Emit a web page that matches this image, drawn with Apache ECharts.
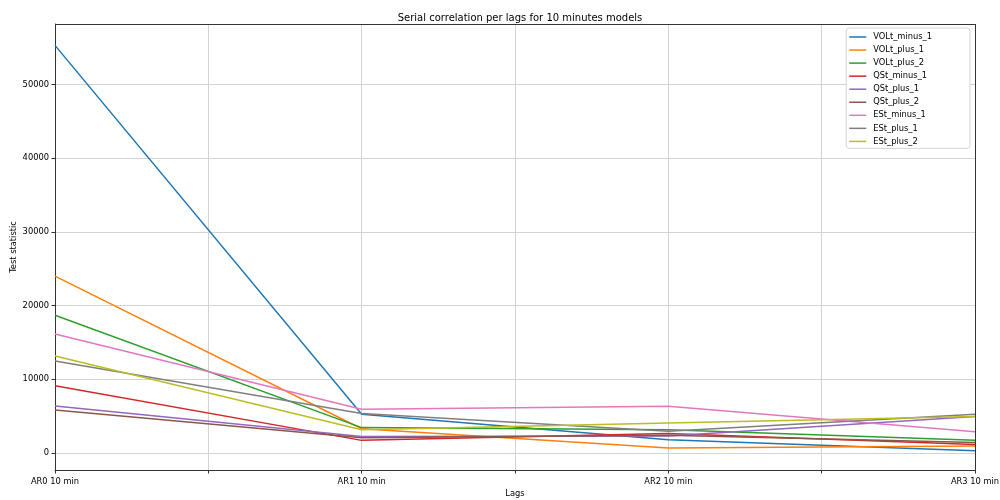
<!DOCTYPE html>
<html>
<head>
<meta charset="utf-8">
<script src="https://cdn.jsdelivr.net/npm/echarts@6/dist/echarts.min.js"></script>
<style>
  html, body { margin: 0; padding: 0; background: #fff; }
  #chart { width: 1000px; height: 500px; }
</style>
</head>
<body>
<div id="chart"></div>
<script>
// Lag model labels along the x axis
const categories = ['AR0 10 min', 'AR1 10 min', 'AR2 10 min', 'AR3 10 min'];

// Test statistic per lag for each series
const VOLt_minus_1 = [55300, 5250, 1800, 310];
const VOLt_plus_1  = [24000, 3300, 700, 950];
const VOLt_plus_2  = [18700, 3450, 3150, 1720];
const QSt_minus_1  = [9130, 1720, 2650, 1150];
const QSt_plus_1   = [6370, 2260, 2300, 4950];
const QSt_plus_2   = [5830, 2080, 2400, 1420];
const ESt_minus_1  = [16150, 5930, 6350, 2890];
const ESt_plus_1   = [12480, 5350, 2950, 5250];
const ESt_plus_2   = [13150, 3150, 4080, 4970];

const yTicks = [0, 10000, 20000, 30000, 40000, 50000];

const seriesNames = ['VOLt_minus_1', 'VOLt_plus_1', 'VOLt_plus_2', 'QSt_minus_1', 'QSt_plus_1',
                     'QSt_plus_2', 'ESt_minus_1', 'ESt_plus_1', 'ESt_plus_2'];
const seriesValues = [VOLt_minus_1, VOLt_plus_1, VOLt_plus_2, QSt_minus_1, QSt_plus_1,
                      QSt_plus_2, ESt_minus_1, ESt_plus_1, ESt_plus_2];
const colors = ['#1f77b4', '#ff7f0e', '#2ca02c', '#d62728', '#9467bd',
                '#8c564b', '#e377c2', '#7f7f7f', '#bcbd22'];

const FONT = 'DejaVu Sans';
const Y_MIN = -2300, Y_MAX = 58200;

const chart = echarts.init(document.getElementById('chart'), null, { renderer: 'canvas' });

chart.setOption({
  animation: false,
  color: colors,
  textStyle: { fontFamily: FONT },
  title: {
    text: 'Serial correlation per lags for 10 minutes models',
    left: 515, top: 8, textAlign: 'center',
    textStyle: { fontFamily: FONT, fontSize: 10, fontWeight: 'normal', color: '#000' }
  },
  legend: {
    orient: 'vertical',
    right: 30, top: 28,
    padding: [4, 38, 2, 3],
    borderColor: '#d5d5d5', borderWidth: 1, borderRadius: 3,
    backgroundColor: '#fff',
    itemWidth: 17, itemHeight: 10, itemGap: 3.05,
    icon: 'path://M0,4.25 L17,4.25 L17,5.75 L0,5.75 Z',
    textStyle: { fontFamily: FONT, fontSize: 8.3, lineHeight: 10, color: '#000', padding: [0, 0, 0, 2] },
    data: seriesNames
  },
  grid: { left: 55, right: 25, top: 24, bottom: 30, containLabel: false, outerBoundsMode: 'none', show: false },
  xAxis: {
    type: 'value',
    min: 0, max: categories.length - 1, interval: 0.5,
    name: 'Lags', nameLocation: 'middle', nameGap: 20, nameMoveOverlap: false,
    nameTextStyle: { fontFamily: FONT, fontSize: 8.3, color: '#000' },
    axisLine: { show: true, onZero: false, lineStyle: { color: '#333', width: 1 } },
    axisTick: { show: true, length: 3.5, lineStyle: { color: '#333' } },
    axisLabel: {
      fontFamily: FONT, fontSize: 8.3, color: '#000', margin: 8,
      formatter: v => Number.isInteger(v) ? categories[v] : ''
    },
    splitLine: { show: true, lineStyle: { color: '#d3d3d3', width: 1 } }
  },
  yAxis: {
    type: 'value',
    min: Y_MIN, max: Y_MAX,
    name: 'Test statistic', nameLocation: 'middle', nameGap: 37, nameRotate: 90, nameMoveOverlap: false,
    nameTextStyle: { fontFamily: FONT, fontSize: 8.3, color: '#000' },
    axisLine: { show: true, onZero: false, lineStyle: { color: '#333', width: 1 } },
    axisTick: { show: true, length: 3.5, lineStyle: { color: '#333' }, customValues: yTicks },
    axisLabel: {
      fontFamily: FONT, fontSize: 8.3, color: '#000', margin: 6, customValues: yTicks,
      formatter: v => String(v)
    },
    splitLine: { show: true, lineStyle: { color: '#d3d3d3', width: 1 } }
  },
  series: seriesNames.map((name, i) => ({
    name,
    type: 'line',
    symbol: 'none',
    lineStyle: { width: 1.5 },
    data: seriesValues[i].map((v, k) => [k, v]),
    z: 2 + i
  })).concat([{
    // top and right frame of the plot area
    type: 'line', silent: true, symbol: 'none', data: [],
    markLine: {
      silent: true, symbol: 'none', label: { show: false },
      lineStyle: { color: '#333', width: 1, type: 'solid' },
      data: [{ yAxis: Y_MAX }, { xAxis: categories.length - 1 }]
    }
  }])
});
</script>
</body>
</html>
